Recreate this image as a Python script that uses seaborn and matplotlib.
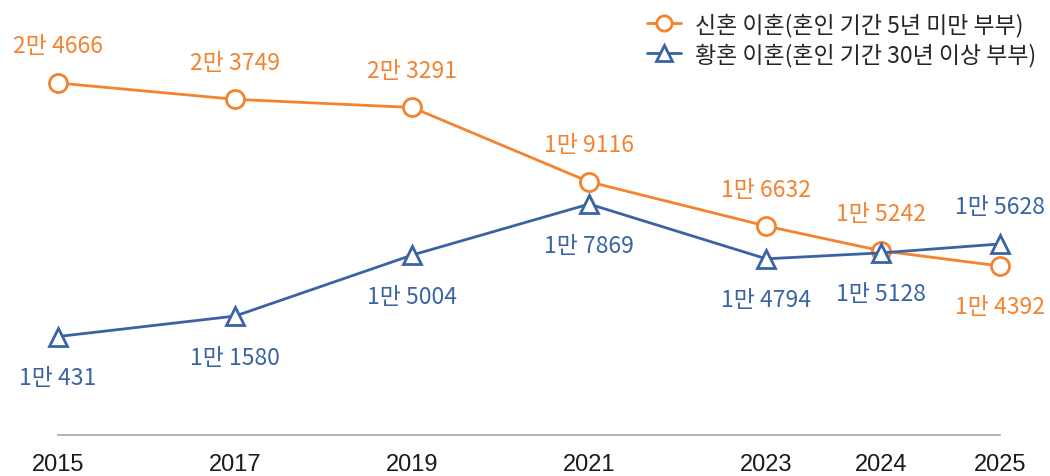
import matplotlib
matplotlib.use('Agg')
import matplotlib.pyplot as plt
from matplotlib.lines import Line2D
import seaborn as sns
import pandas as pd

years = ['2015', '2017', '2019', '2021', '2023', '2024', '2025']
x_slot = [0, 1, 2, 3, 4, 4.65, 5.32]
newlywed = [24666, 23749, 23291, 19116, 16632, 15242, 14392]
longterm = [10431, 11580, 15004, 17869, 14794, 15128, 15628]
newlywed_labels = ['2만 4666', '2만 3749', '2만 3291', '1만 9116', '1만 6632', '1만 5242', '1만 4392']
longterm_labels = ['1만 431', '1만 1580', '1만 5004', '1만 7869', '1만 4794', '1만 5128', '1만 5628']
# label above (+1) or below (-1) the point
newlywed_side = [1, 1, 1, 1, 1, 1, -1]
longterm_side = [-1, -1, -1, -1, -1, -1, 1]

name_a = '신혼 이혼(혼인 기간 5년 미만 부부)'
name_b = '황혼 이혼(혼인 기간 30년 이상 부부)'
orange = '#F5822F'
blue = '#3A63A4'

sns.set_theme(style='white')
plt.rcParams['font.family'] = ['Noto Sans CJK KR', 'DejaVu Sans']

df = pd.DataFrame({'x': x_slot * 2,
                   'v': newlywed + longterm,
                   's': [name_a] * 7 + [name_b] * 7})

fig = plt.figure(figsize=(10.5, 4.77), dpi=100)
ax = fig.add_axes([58 / 1050, 1 - 436 / 477, 942 / 1050, 436 / 477])

sns.lineplot(data=df, x='x', y='v', hue='s', style='s',
             palette=[orange, blue], markers=['o', '^'], dashes=False,
             markersize=13, markerfacecolor='white', markeredgewidth=2,
             linewidth=2, ax=ax, clip_on=False, legend=False)
for line, c in zip(ax.get_lines(), [orange, blue]):
    line.set_markeredgecolor(c)

for vals, labs, side, c in [(newlywed, newlywed_labels, newlywed_side, orange),
                            (longterm, longterm_labels, longterm_side, blue)]:
    for x, v, t, s in zip(x_slot, vals, labs, side):
        off = 37 if s > 0 else -41
        ax.annotate(t, (x, v), xytext=(0, off), textcoords='offset pixels',
                    ha='center', va='center', color=c, fontsize=16.5)

ax.set_xlim(0, 5.32)
ax.set_ylim(4902, 29382)
ax.set_xticks(x_slot)
ax.set_xticklabels(years, fontsize=17, family=['Liberation Sans', 'DejaVu Sans'])
ax.tick_params(axis='x', length=0, pad=13, colors='#1a1a1a')
ax.set_yticks([])
ax.set_xlabel('')
ax.set_ylabel('')
for sp in ['top', 'right', 'left']:
    ax.spines[sp].set_visible(False)
ax.spines['bottom'].set_color('#A6A6A6')
ax.spines['bottom'].set_linewidth(1.2)

handles = [Line2D([], [], color=orange, marker='o', markersize=11, markerfacecolor='white',
                  markeredgewidth=2, linewidth=2),
           Line2D([], [], color=blue, marker='^', markersize=11, markerfacecolor='white',
                  markeredgewidth=2, linewidth=2)]
fig.legend(handles, [name_a, name_b], loc='upper right', bbox_to_anchor=(1.0, 1.0),
           frameon=False, fontsize=16.5, handlelength=1.5, handletextpad=0.6,
           labelspacing=0.25, borderaxespad=0.2, labelcolor='#262626')

fig.savefig('out.png', dpi=100)
